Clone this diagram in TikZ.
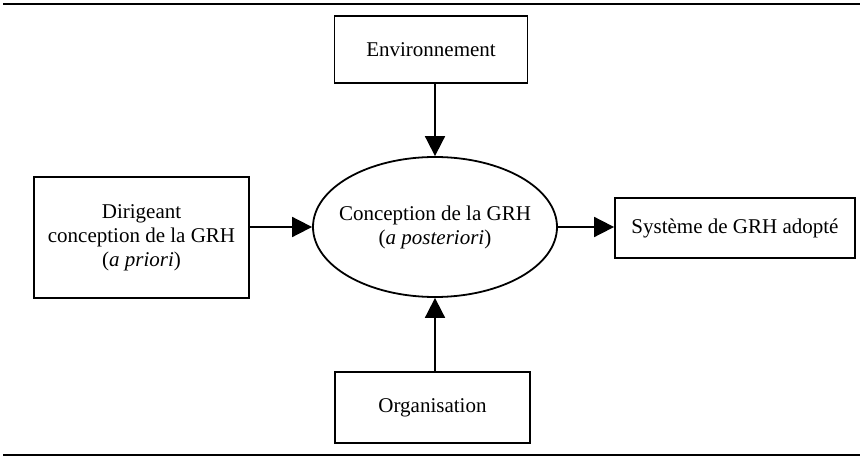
\documentclass[tikz,border=0pt]{standalone}
\usepackage{fontspec}
\setmainfont{Liberation Serif}
\usetikzlibrary{arrows.meta,shapes.geometric}
\begin{document}
\begin{tikzpicture}[x=1pt,y=-1pt,
  every node/.style={font=\fontsize{21}{24}\selectfont, align=center, inner sep=0pt},
  box/.style={draw, line width=1.8pt, rectangle},
  oval/.style={draw, line width=1.8pt, ellipse},
  arr/.style={line width=1.8pt, -{Triangle[length=20pt,width=20pt]}},
  rule/.style={line width=2.2pt}]
\useasboundingbox (0,0) rectangle (860,457);
\coordinate (t1) at (3,4);
\coordinate (t2) at (860,4);
\coordinate (b1) at (3,455);
\coordinate (b2) at (860,455);
\draw[rule] (t1) -- (t2);
\draw[rule] (b1) -- (b2);
\node[box, minimum width=193pt, minimum height=67pt] (env) at (431,49.5) {Environnement};
\node[oval, minimum width=244pt, minimum height=140pt] (conc) at (435,227) {};
\node (conctext) at (conc.center) {Conception de la GRH\\(\textit{a posteriori})};
\node[box, minimum width=215pt, minimum height=121pt] (dir) at (141.5,237.5) {Dirigeant\\conception de la GRH\\(\textit{a priori})};
\node[box, minimum width=240pt, minimum height=60pt] (sys) at (735,228) {Système de GRH adopté};
\node[box, minimum width=195pt, minimum height=71pt] (org) at (432.5,407.5) {Organisation};
\draw[arr] (env.south -| conc.north) -- (conc.north);
\draw[arr] (org.north -| conc.south) -- (conc.south);
\draw[arr] (dir.east |- conc.west) -- (conc.west);
\draw[arr] (conc.east) -- (sys.west |- conc.east);
\end{tikzpicture}
\end{document}
